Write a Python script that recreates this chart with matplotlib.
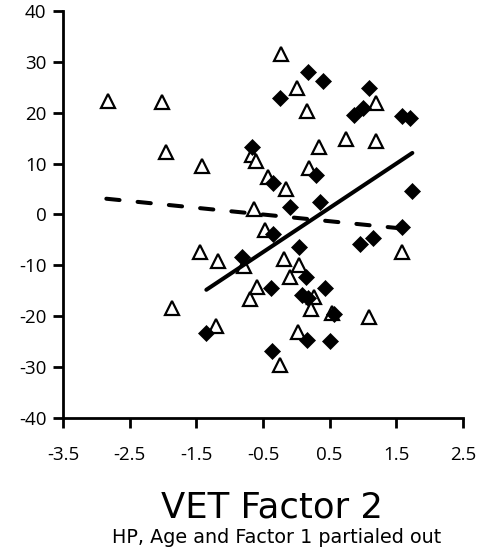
import matplotlib
matplotlib.use('Agg')
import matplotlib.pyplot as plt
import numpy as np

# open triangles (dashed trend)
tri_x = [-2.83, -2.02, -1.95, -1.41, -0.23, 0.01, 0.16, 1.19, 0.74, 1.20,
         0.34, -0.66, -0.60, -0.43, -0.15, 0.19, -0.63, -0.47, -0.79, -0.18,
         0.04, -1.44, -1.18, -1.86, -1.21, -0.70, -0.59, -0.09, 0.26, 0.22,
         0.54, 1.09, 0.03, -0.25, 1.58]
tri_y = [22.4, 22.1, 12.3, 9.5, 31.6, 24.9, 20.4, 21.9, 14.9, 14.4,
         13.2, 11.6, 10.5, 7.3, 5.1, 9.2, 1.0, -3.1, -10.2, -8.7,
         -9.9, -7.4, -9.1, -18.4, -21.9, -16.6, -14.3, -12.2, -16.3, -18.5,
         -19.3, -20.1, -23.0, -29.6, -7.4]

# filled diamonds (solid trend)
dia_x = [-0.24, 0.18, 0.40, 1.09, 0.87, 1.00, 1.59, 1.70, -0.67, -0.35,
         0.29, 1.73, -0.09, 0.36, -0.35, -0.82, 0.04, 0.14, -0.38, 0.43,
         0.09, 0.17, 0.57, 0.16, 0.50, -0.36, -1.35, 0.96, 1.15, 1.59]
dia_y = [22.8, 28.0, 26.3, 24.8, 19.5, 21.0, 19.3, 19.0, 13.3, 6.2,
         7.8, 4.7, 1.4, 2.5, -3.9, -8.4, -6.4, -12.2, -14.4, -14.4,
         -15.8, -16.4, -19.6, -24.7, -24.9, -26.8, -23.3, -5.8, -4.7, -2.5]

# trend line ends
dash_x = [-2.85, 1.62]
dash_y = [3.1, -2.8]
solid_x = [-1.35, 1.74]
solid_y = [-14.8, 12.1]

xticks = [-3.5, -2.5, -1.5, -0.5, 0.5, 1.5, 2.5]
yticks = [-40, -30, -20, -10, 0, 10, 20, 30, 40]

fig = plt.figure(figsize=(4.86, 5.58), dpi=100)
ax = fig.add_axes([0.1296, 0.2509, 0.8231, 0.7294])

ax.plot(tri_x, tri_y, ls='none', marker='^', ms=10, mfc='white',
        mec='black', mew=1.6, zorder=3)
ax.plot(dia_x, dia_y, ls='none', marker='D', ms=8, mfc='black',
        mec='black', mew=0.5, zorder=3)
ax.plot(solid_x, solid_y, c='black', lw=2.9, solid_capstyle='round', zorder=4)
ax.plot(dash_x, dash_y, c='black', lw=2.9, dashes=(3.3, 4.5),
        dash_capstyle='round', zorder=4)

ax.set_xlim(-3.5, 2.5)
ax.set_ylim(-40, 40)
ax.set_xticks(xticks)
ax.set_yticks(yticks)
ax.set_xticklabels([str(v) for v in xticks])
ax.set_yticklabels([str(v) for v in yticks])
for s in ['top', 'right']:
    ax.spines[s].set_visible(False)
for s in ['left', 'bottom']:
    ax.spines[s].set_linewidth(2)
ax.tick_params(width=2, length=7, labelsize=13.5, pad=13)
ax.tick_params(axis='y', pad=5)
for lab in ax.get_xticklabels() + ax.get_yticklabels():
    lab.set_family('Open Sans')

fig.text(0.56, 1 - 517 / 558, 'VET Factor 2', ha='center', va='baseline',
         fontsize=25.5, family='DejaVu Sans')
fig.text(0.57, 1 - 543 / 558, 'HP, Age and Factor 1 partialed out',
         ha='center', va='baseline', fontsize=13.8, family='DejaVu Sans')

fig.savefig('out.png', dpi=100)
